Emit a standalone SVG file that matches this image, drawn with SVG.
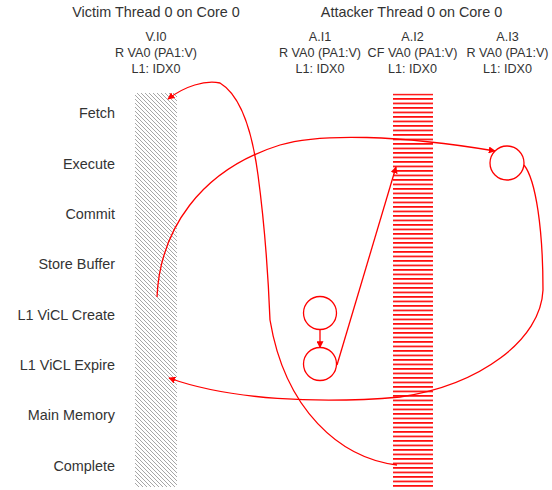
<svg xmlns="http://www.w3.org/2000/svg" width="552" height="490" viewBox="0 0 552 490">
<style>
text{font-family:"Liberation Sans",Arial,sans-serif;fill:#333}
.hdr{font-size:14.4px;text-anchor:middle}
.sub{font-size:12.6px;text-anchor:middle}
.row{font-size:14.4px;text-anchor:end}
.conn{fill:none;stroke:#ff0000;stroke-width:1.3}
.node{fill:#fff;stroke:#ff0000;stroke-width:1.3}
</style>
<defs>
<pattern id="hatch" patternUnits="userSpaceOnUse" width="4" height="4">
<path d="M-1,-1 L5,5 M-1,3 L1,5 M3,-1 L5,1" stroke="#a6a6a6" stroke-width="1"/>
</pattern>
<pattern id="stripes" patternUnits="userSpaceOnUse" x="0" y="93.6" width="40" height="4.5">
<rect x="0" y="0" width="40" height="1.6" fill="#ff0000"/>
</pattern>
<marker id="arr" viewBox="0 0 10 10" refX="9" refY="5" markerWidth="7" markerHeight="7" markerUnits="userSpaceOnUse" orient="auto">
<path d="M0,0 L10,5 L0,10 z" fill="#ff0000"/>
</marker>
</defs>
<rect width="552" height="490" fill="#fff"/>
<g id="headers">
<text class="hdr" x="156" y="17">Victim Thread 0 on Core 0</text>
<text class="hdr" x="411.5" y="17">Attacker Thread 0 on Core 0</text>
</g>
<g id="rows">
<text class="row" x="115" y="118">Fetch</text>
<text class="row" x="115" y="168.5">Execute</text>
<text class="row" x="115" y="219">Commit</text>
<text class="row" x="115" y="269">Store Buffer</text>
<text class="row" x="115" y="319.5">L1 ViCL Create</text>
<text class="row" x="115" y="370">L1 ViCL Expire</text>
<text class="row" x="115" y="420">Main Memory</text>
<text class="row" x="115" y="470.5">Complete</text>
</g>
<g id="V.I0">
<text class="sub" x="156" y="41">V.I0</text>
<text class="sub" x="156" y="57">R VA0 (PA1:V)</text>
<text class="sub" x="156" y="73">L1: IDX0</text>
<rect x="135" y="93" width="42" height="394" fill="url(#hatch)"/>
</g>
<g id="A.I1">
<text class="sub" x="320" y="41">A.I1</text>
<text class="sub" x="320" y="57">R VA0 (PA1:V)</text>
<text class="sub" x="320" y="73">L1: IDX0</text>
<circle class="node" cx="320" cy="313" r="16.5"/>
<circle class="node" cx="320" cy="364" r="16.5"/>
</g>
<g id="A.I2">
<text class="sub" x="412.5" y="41">A.I2</text>
<text class="sub" x="412.5" y="57">CF VA0 (PA1:V)</text>
<text class="sub" x="412.5" y="73">L1: IDX0</text>
<rect x="393" y="93.6" width="40" height="394" fill="url(#stripes)"/>
</g>
<g id="A.I3">
<text class="sub" x="507.5" y="41">A.I3</text>
<text class="sub" x="507.5" y="57">R VA0 (PA1:V)</text>
<text class="sub" x="507.5" y="73">L1: IDX0</text>
<circle class="node" cx="507" cy="163" r="17"/>
</g>
<g id="connectors">
<path class="conn" d="M320,329.5 L320,347.5" marker-end="url(#arr)"/>
<path class="conn" d="M337,365 L396,167" marker-end="url(#arr)"/>
<path class="conn" d="M397,465 C340,458 285,410 270,320 C268,270 264,220 258,175 C252,130 240,95 220,83 C205,80 185,86 168,99" marker-end="url(#arr)"/>
<path class="conn" d="M157,297 C160,230 200,170 280,145 C320,133 400,135 495,151" marker-end="url(#arr)"/>
<path class="conn" d="M524,165 C536,180 543,230 543,290 C541,340 480,385 400,397 C320,404 230,400 169,378" marker-end="url(#arr)"/>
</g>
</svg>
